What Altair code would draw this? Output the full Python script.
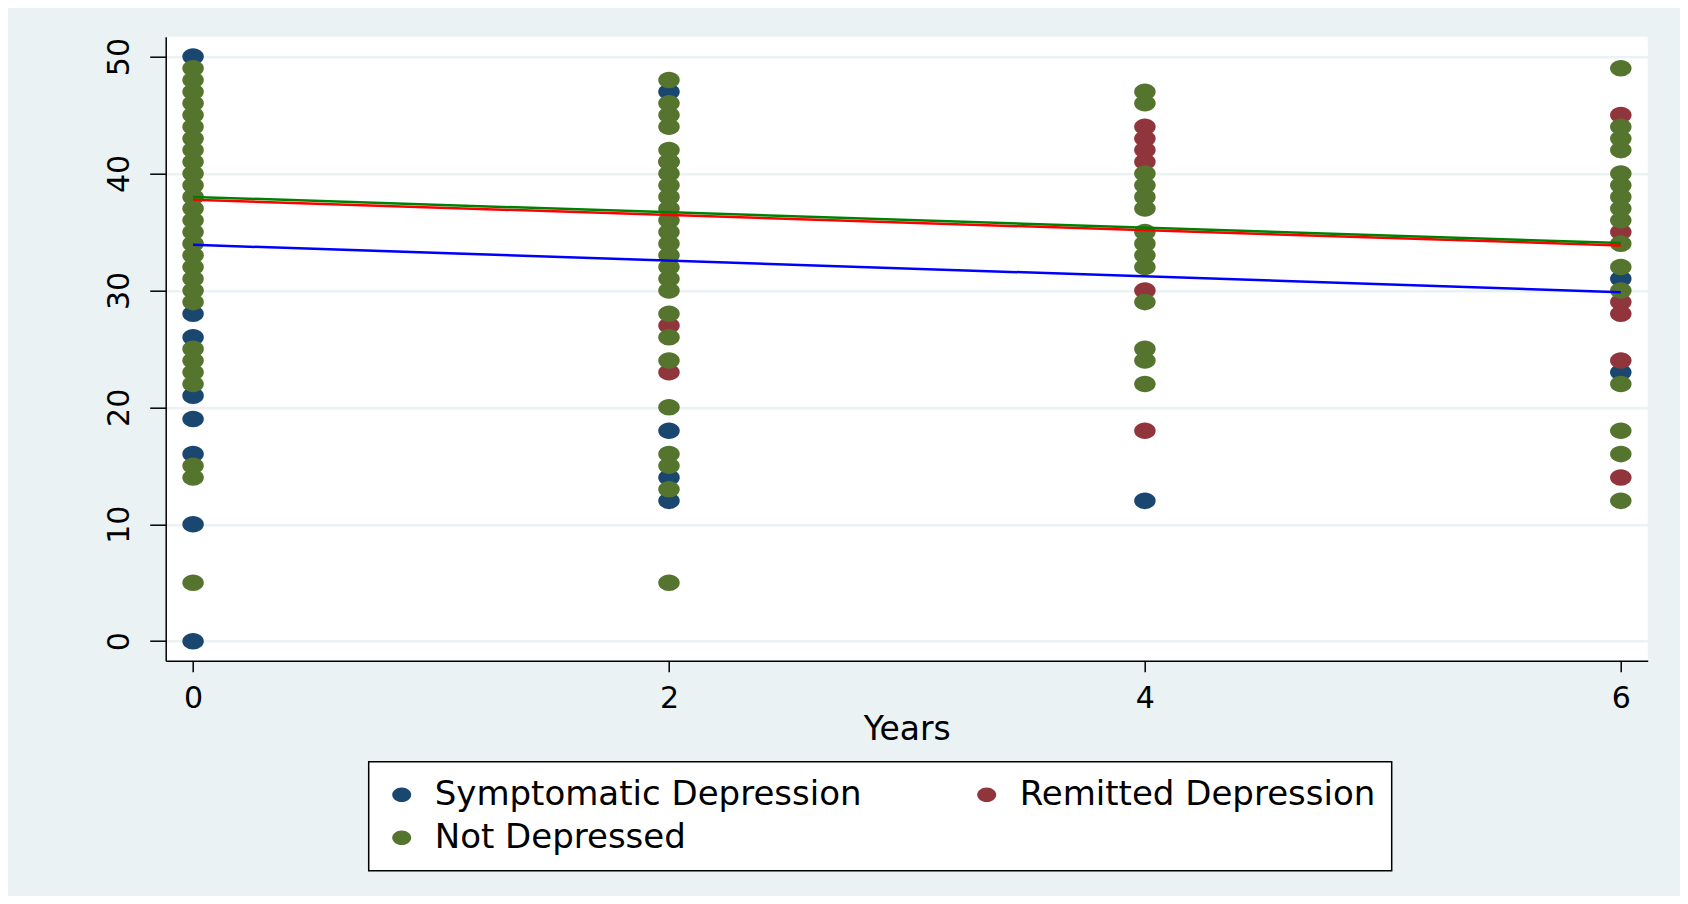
import altair as alt
import pandas as pd

groups = ["Symptomatic Depression", "Remitted Depression", "Not Depressed"]
legend_order = ["Symptomatic Depression", "Not Depressed", "Remitted Depression"]
point_colors = ["#1a476f", "#90353b", "#55752f"]
line_colors = ["#0000ff", "#ff0000", "#008000"]
years = [0, 2, 4, 6]

# Symptomatic Depression scores by year
sym_y0 = [50, 28, 26, 21, 19, 16, 10, 0]
sym_y2 = [47, 18, 14, 12]
sym_y4 = [12]
sym_y6 = [31, 23]

# Remitted Depression scores by year
rem_y0 = []
rem_y2 = [41, 27, 23]
rem_y4 = [44, 43, 42, 41, 30, 18]
rem_y6 = [45, 35, 29, 28, 24, 14]

# Not Depressed scores by year
not_y0 = [49, 48, 47, 46, 45, 44, 43, 42, 41, 40, 39, 38, 37, 36, 35, 34, 33, 32, 31, 30, 29,
          25, 24, 23, 22, 15, 14, 5]
not_y2 = [48, 46, 45, 44, 42, 41, 40, 39, 38, 37, 36, 35, 34, 33, 32, 31, 30, 28, 26, 24, 20, 16, 15, 13, 5]
not_y4 = [47, 46, 40, 39, 38, 37, 35, 34, 33, 32, 29, 25, 24, 22]
not_y6 = [49, 44, 43, 42, 40, 39, 38, 37, 36, 34, 32, 30, 22, 18, 16, 12]

# Fitted lines (value at year 0 and year 6)
fit_x = [0, 6]
fit_sym = [33.9, 29.85]
fit_rem = [37.75, 33.85]
fit_not = [38.0, 34.05]

group_scores = [
    [sym_y0, sym_y2, sym_y4, sym_y6],
    [rem_y0, rem_y2, rem_y4, rem_y6],
    [not_y0, not_y2, not_y4, not_y6],
]
fits = [fit_sym, fit_rem, fit_not]

rows = []
for gi, (g, per_year) in enumerate(zip(groups, group_scores)):
    for yr, vals in zip(years, per_year):
        for v in vals:
            rows.append({"Years": yr, "score": v, "group": g, "gi": gi})
df = pd.DataFrame(rows)

ellipse = "M -1 0 A 1 0.77 0 1 0 1 0 A 1 0.77 0 1 0 -1 0 Z"

xscale = alt.Scale(domain=[-0.115, 6.113], nice=False, zero=False)
yscale = alt.Scale(domain=[-1.67, 51.7], nice=False, zero=False)

points = alt.Chart(df).mark_point(
    filled=True, shape=ellipse, size=462, opacity=1, strokeWidth=0
).encode(
    x=alt.X("Years:Q", scale=xscale,
            axis=alt.Axis(values=years, format="d", grid=False, tickSize=11,
                          labelPadding=12, labelFontSize=30, titleFontSize=33,
                          titlePadding=0, titleFontWeight="normal")),
    y=alt.Y("score:Q", scale=yscale,
            axis=alt.Axis(values=[0, 10, 20, 30, 40, 50], title=None, grid=True,
                          tickSize=16, labelPadding=21, labelFontSize=30,
                          labelAngle=270, labelAlign="center", labelBaseline="alphabetic")),
    color=alt.Color("group:N", scale=alt.Scale(domain=groups, range=point_colors),
                    legend=alt.Legend(title=None, orient="none", legendX=203, legendY=725,
                                      columns=2, values=legend_order)),
    order=alt.Order("gi:Q"),
)

layers = [points]
for vals, col in zip(fits, line_colors):
    fdf = pd.DataFrame({"Years": fit_x, "score": vals})
    layers.append(
        alt.Chart(fdf).mark_line(color=col, strokeWidth=2.5).encode(
            x=alt.X("Years:Q", scale=xscale),
            y=alt.Y("score:Q", scale=yscale),
        )
    )

chart = alt.layer(*layers).properties(
    width=1482,
    height=624,
    autosize=alt.AutoSizeParams(type="none"),
    padding={"left": 157.7, "top": 28.7, "right": 32.3, "bottom": 235.3},
    background="#eaf2f3",
).configure_view(
    fill="white", stroke=None
).configure_axis(
    domainColor="black", domainWidth=1.5, tickColor="black", tickWidth=1.5,
    labelColor="black", titleColor="black",
    labelFont="DejaVu Sans", titleFont="DejaVu Sans",
    gridColor="#eaf2f3", gridWidth=2.5,
).configure_legend(
    strokeColor="black", strokeWidth=1.5, fillColor="white", padding=16,
    labelFont="DejaVu Sans", labelFontSize=34, labelColor="black",
    labelOffset=16, columnPadding=108, rowPadding=9, gridAlign="all",
    symbolType=ellipse, symbolSize=361, symbolStrokeWidth=0, symbolOpacity=1,
    labelLimit=0,
)

chart.save("out.html", embed_options={"renderer": "svg", "actions": False})
